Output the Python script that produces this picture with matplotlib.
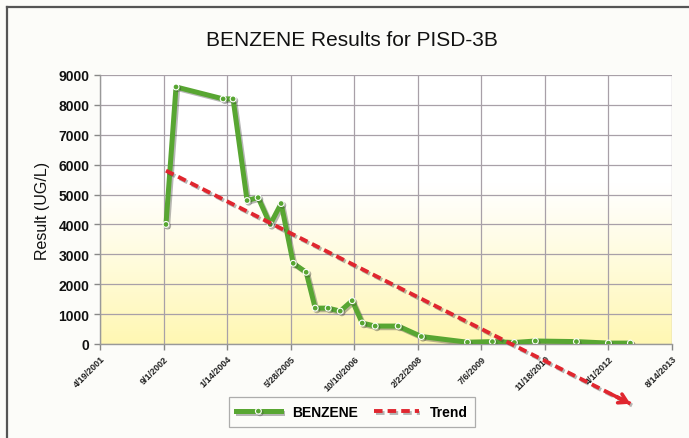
import matplotlib
matplotlib.use("Agg")
import matplotlib.pyplot as plt
import matplotlib.dates as mdates
import matplotlib.patheffects as pe
from matplotlib.lines import Line2D
import numpy as np
import pandas as pd

plt.rcParams['font.family'] = ['Liberation Sans', 'DejaVu Sans']

# ---- data ----
sample_dates = ["2002-09-20", "2002-12-08", "2003-12-14", "2004-03-01", "2004-06-19",
                "2004-09-14", "2004-12-18", "2005-03-14", "2005-06-17", "2005-09-27",
                "2005-12-07", "2006-03-19", "2006-06-22", "2006-09-24", "2006-12-12",
                "2007-03-24", "2007-09-21", "2008-03-21", "2009-03-19", "2009-10-01",
                "2010-03-23", "2010-09-04", "2011-07-24", "2012-04-01", "2012-09-21"]
benzene = [4000, 8600, 8200, 8200, 4800,
           4900, 4000, 4700, 2700, 2400,
           1200, 1200, 1100, 1450, 700,
           600, 600, 250, 60, 80,
           50, 100, 80, 30, 30]
trend_dates = ["2002-09-20", "2012-09-21"]
trend_values = [5800, -2000]
tick_dates = ["2001-04-19", "2002-09-01", "2004-01-14", "2005-05-28", "2006-10-10",
              "2008-02-22", "2009-07-06", "2010-11-18", "2012-04-01", "2013-08-14"]
tick_labels = ["4/19/2001", "9/1/2002", "1/14/2004", "5/28/2005", "10/10/2006",
               "2/22/2008", "7/6/2009", "11/18/2010", "4/1/2012", "8/14/2013"]
y_ticks = [0, 1000, 2000, 3000, 4000, 5000, 6000, 7000, 8000, 9000]

title = "BENZENE Results for PISD-3B"
ylabel = "Result (UG/L)"

x = pd.to_datetime(sample_dates)
xt = pd.to_datetime(trend_dates)
ticks = pd.to_datetime(tick_dates)

W, H = 689, 439
fig = plt.figure(figsize=(W / 100, H / 100), dpi=100, facecolor="#fcfcf9")

# outer frame (left and top edges only visible)
fig.lines.append(Line2D([7 / W, 7 / W], [0, 1 - 8 / H], transform=fig.transFigure,
                        color="#555555", linewidth=1.6))
fig.lines.append(Line2D([7 / W, 1], [1 - 8 / H, 1 - 8 / H], transform=fig.transFigure,
                        color="#555555", linewidth=1.6))

ax = fig.add_axes([100 / W, 1 - 345 / H, (672 - 100) / W, (345 - 76) / H])
ax.set_facecolor("none")

# gradient background (white top -> pale yellow bottom)
grad = np.linspace(0, 1, 256)
alpha = np.clip((grad - 0.40) / 0.60, 0, 1) ** 1.1
img = np.ones((256, 1, 4))
img[:, 0, 1] = 1.0 - 0.03 * alpha
img[:, 0, 2] = 1.0 - 0.30 * alpha
ax.imshow(img, extent=[0, 1, 0, 1], transform=ax.transAxes, aspect="auto",
          zorder=0, origin="upper")

ax.set_xlim(ticks[0], ticks[-1])
ax.set_ylim(0, 9000)
ax.set_xticks(ticks)
ax.set_xticklabels(tick_labels, rotation=45, ha="right", rotation_mode="anchor",
                   fontsize=6.5, fontweight="bold", color="#222222")
ax.set_yticks(y_ticks)
ax.set_yticklabels([str(v) for v in y_ticks], fontsize=10, fontweight="bold", color="#111111")
ax.tick_params(axis="both", direction="out", length=4, color="#888888", width=1)
ax.tick_params(axis="x", pad=3)

ax.grid(True, color="#a8a0a8", linewidth=0.9, zorder=1)
ax.set_axisbelow(True)
for s in ["top", "right"]:
    ax.spines[s].set_visible(False)
for s in ["left", "bottom"]:
    ax.spines[s].set_color("#999999")
    ax.spines[s].set_linewidth(1)

shadow = [pe.SimpleLineShadow(offset=(1.2, -1.2), shadow_color="#333333", alpha=0.35), pe.Normal()]

ax.plot(x, benzene, color="#58a632", linewidth=3.6, marker="o", markersize=4.2,
        markerfacecolor="#58a632", markeredgecolor="white", markeredgewidth=0.8,
        zorder=4, label="BENZENE", path_effects=shadow, solid_joinstyle="round")

ax.plot(xt, trend_values, color="#e0262f", linewidth=2.8, linestyle=(0, (2.2, 1.3)),
        zorder=5, clip_on=False, label="Trend", path_effects=shadow)

# arrow head at end of trend
x0 = mdates.date2num(xt[0]); x1 = mdates.date2num(xt[-1])
ax.annotate("", xy=(xt[-1], trend_values[-1]),
            xytext=(mdates.num2date(x1 - (x1 - x0) * 0.04),
                    trend_values[-1] - (trend_values[-1] - trend_values[0]) * 0.04),
            arrowprops=dict(arrowstyle="->,head_length=0.6,head_width=0.35", color="#e0262f",
                            linewidth=2.6, shrinkA=0, shrinkB=0),
            annotation_clip=False, zorder=6)

ax.set_ylabel(ylabel, fontsize=11.5, color="#111111", labelpad=6)
fig.text(352 / W, 1 - 40 / H, title, ha="center", va="center", fontsize=15, color="#111111")

leg = ax.legend(loc="center", bbox_to_anchor=(352 / W, 1 - 413 / H), bbox_transform=fig.transFigure,
                ncol=2, frameon=True, fontsize=10, fancybox=False, handlelength=3.2,
                columnspacing=1.2, borderpad=0.55, handletextpad=0.8)
leg.get_frame().set_edgecolor("#999999")
leg.get_frame().set_linewidth(0.9)
leg.get_frame().set_facecolor("#fcfcf9")
for t in leg.get_texts():
    t.set_fontweight("bold")

fig.savefig("out.png", dpi=100, facecolor=fig.get_facecolor())
